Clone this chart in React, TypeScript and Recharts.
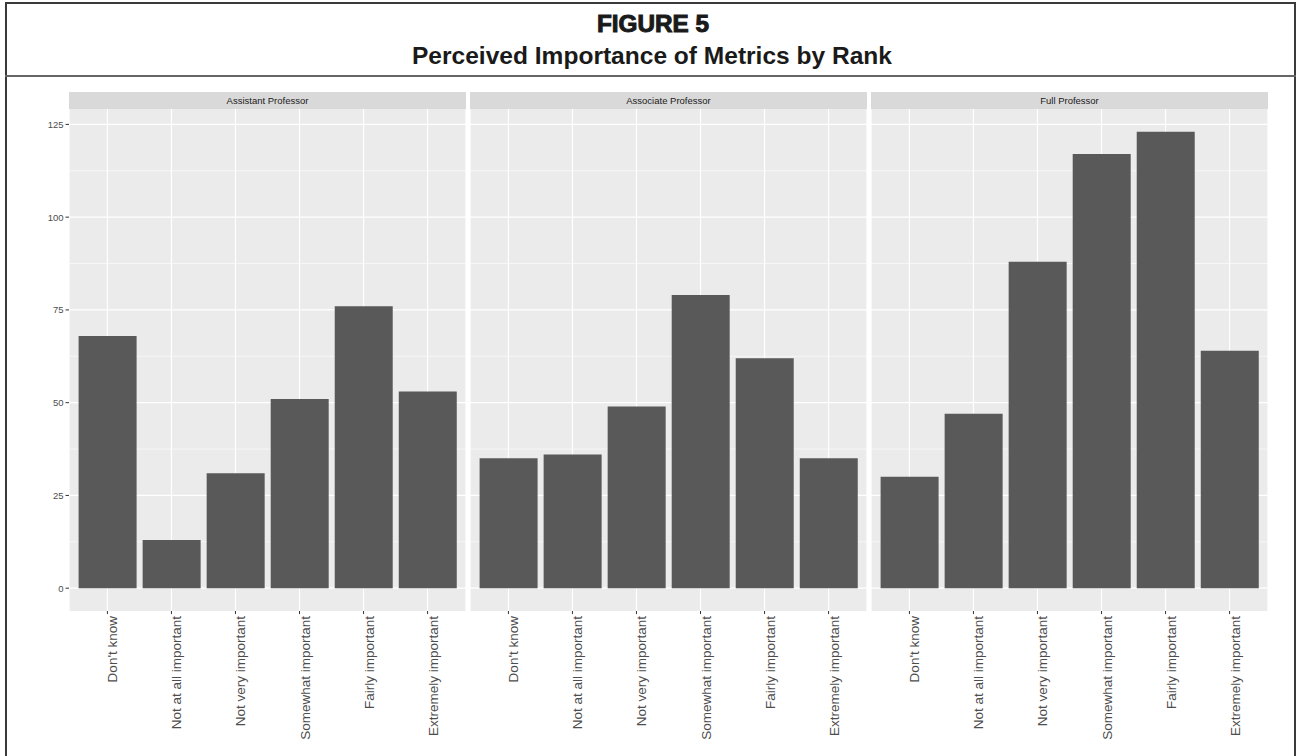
import React from 'react';
import { BarChart, Bar, XAxis, YAxis, CartesianGrid } from 'recharts';

const levels = [
  "Don't know",
  'Not at all important',
  'Not very important',
  'Somewhat important',
  'Fairly important',
  'Extremely important',
];
const ranks = ['Assistant Professor', 'Associate Professor', 'Full Professor'];
const assistantCounts = [68, 13, 31, 51, 76, 53];
const associateCounts = [35, 36, 49, 79, 62, 35];
const fullCounts = [30, 47, 88, 117, 123, 64];
const yTicks = [0, 25, 50, 75, 100, 125];
const yMinor = [12.5, 37.5, 62.5, 87.5, 112.5];

const countsByRank = [assistantCounts, associateCounts, fullCounts];

// ggplot-style 5% expansion, shared across facets
const maxCount = Math.max(...assistantCounts, ...associateCounts, ...fullCounts);
const yDomain = [-maxCount * 0.05, maxCount * 1.05];

const PANEL_W = 397;
const PANEL_GAP = 4;
const FIRST_LEFT = 69;
const STRIP_TOP = 92;
const STRIP_H = 17;
const PLOT_H = 502;
const X_AXIS_H = 140;
const Y_AXIS_W = 40;
const FONT = '"Liberation Sans", Arial, sans-serif';

const XTick = (props: any) => {
  const { x, y, payload } = props;
  return (
    <text
      x={0}
      y={0}
      transform={`translate(${x + 10},${y}) rotate(-90)`}
      textAnchor="end"
      fontSize={13.5}
      fill="#4D4D4D"
      fontFamily={FONT}
    >
      {payload.value}
    </text>
  );
};

const Panel = ({ title, counts, index }: { title: string; counts: number[]; index: number }) => {
  const data = levels.map((level, i) => ({ level, count: counts[i] }));
  const showY = index === 0;
  const yW = showY ? Y_AXIS_W : 0;
  const left = FIRST_LEFT + index * (PANEL_W + PANEL_GAP);
  // pad so outer categories sit 0.6 of a band from the panel edge
  const band = PANEL_W / 6.2;
  return (
    <>
      <div
        style={{
          position: 'absolute',
          left,
          top: STRIP_TOP,
          width: PANEL_W,
          height: STRIP_H,
          background: '#D9D9D9',
          color: '#1A1A1A',
          fontFamily: FONT,
          fontSize: 9.5,
          lineHeight: `${STRIP_H}px`,
          textAlign: 'center',
        }}
      >
        {title}
      </div>
      <div style={{ position: 'absolute', left: left - yW, top: STRIP_TOP + STRIP_H }}>
        <BarChart
          width={PANEL_W + yW}
          height={PLOT_H + X_AXIS_H}
          data={data}
          margin={{ top: 0, right: 0, bottom: 0, left: 0 }}
          barCategoryGap="5%"
        >
          <CartesianGrid fill="#EBEBEB" stroke="#FFFFFF" strokeWidth={0.6} horizontalValues={yMinor} vertical={false} />
          <CartesianGrid stroke="#FFFFFF" strokeWidth={1.2} horizontalValues={yTicks} />
          <XAxis
            dataKey="level"
            type="category"
            interval={0}
            height={X_AXIS_H}
            padding={{ left: band * 0.1, right: band * 0.1 }}
            axisLine={false}
            tickSize={3}
            tickMargin={2}
            tickLine={{ stroke: '#333333', strokeWidth: 1 }}
            tick={<XTick />}
          />
          <YAxis
            hide={!showY}
            width={yW}
            type="number"
            domain={yDomain}
            ticks={yTicks}
            allowDataOverflow
            axisLine={false}
            tickSize={3.5}
            tickMargin={2}
            tickLine={{ stroke: '#333333', strokeWidth: 1 }}
            tick={{ fontSize: 9.5, fill: '#4D4D4D', fontFamily: FONT }}
          />
          <Bar dataKey="count" fill="#595959" isAnimationActive={false} />
        </BarChart>
      </div>
    </>
  );
};

export default function App() {
  return (
    <div style={{ position: 'absolute', left: 0, top: 0, width: 1299, height: 756, background: '#FFFFFF', overflow: 'hidden' }}>
      {/* frame and title band */}
      <div style={{ position: 'absolute', left: 5, top: 2, width: 1287, height: 770, border: '2px solid #3A3A3A' }} />
      <div style={{ position: 'absolute', left: 5, top: 75, width: 1291, height: 2, background: '#666666' }} />
      <svg width={1299} height={74} style={{ position: 'absolute', left: 0, top: 0 }}>
        <text
          x={653}
          y={32}
          textAnchor="middle"
          fontFamily={FONT}
          fontWeight={900}
          fontSize={23.5}
          fill="#1A1A1A"
          stroke="#1A1A1A"
          strokeWidth={1}
          textLength={112}
          lengthAdjust="spacingAndGlyphs"
        >
          FIGURE 5
        </text>
        <text
          x={652}
          y={64}
          textAnchor="middle"
          fontFamily={FONT}
          fontWeight={700}
          fontSize={24}
          fill="#1A1A1A"
          textLength={480}
          lengthAdjust="spacingAndGlyphs"
        >
          Perceived Importance of Metrics by Rank
        </text>
      </svg>
      {ranks.map((rank, i) => (
        <Panel key={rank} title={rank} counts={countsByRank[i]} index={i} />
      ))}
    </div>
  );
}
